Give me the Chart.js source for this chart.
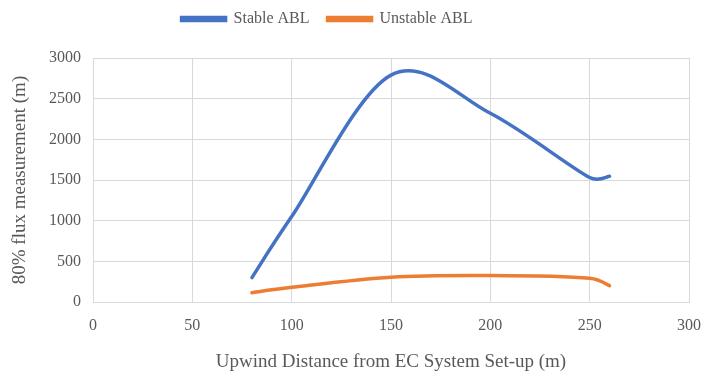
<!DOCTYPE html>
<html>
<head>
<meta charset="utf-8">
<script src="https://cdn.jsdelivr.net/npm/chart.js@4"></script>
<style>
html,body{margin:0;padding:0;background:#fff;}
#wrap{width:706px;height:376px;position:relative;}
</style>
</head>
<body>
<div id="wrap"><canvas id="c" width="706" height="376"></canvas></div>
<script>
const stableX = [80, 100, 150, 200, 250, 260];
const stableY = [300, 1050, 2790, 2320, 1530, 1545];
const unstableX = [80, 100, 150, 200, 250, 260];
const unstableY = [115, 180, 305, 325, 292, 200];
const xTicks = [0, 50, 100, 150, 200, 250, 300];
const yTicks = [0, 500, 1000, 1500, 2000, 2500, 3000];

const toPts = (xs, ys) => xs.map((x, i) => ({x: x, y: ys[i]}));
const FONT = "'Liberation Serif', 'DejaVu Serif', serif";
const GREY = '#595959';

// Excel-style smoothing: Catmull-Rom control points with length capping
const excelSpline = {
  id: 'excelSpline',
  beforeDatasetDraw(chart, args) {
    const meta = args.meta;
    const line = meta.dataset;
    if (!line) return;
    line.updateControlPoints(chart.chartArea, 'x');
    const pts = meta.data;
    const n = pts.length;
    const dist = (a, b) => Math.hypot(b.x - a.x, b.y - a.y);
    for (let i = 0; i < n - 1; i++) {
      const P0 = pts[Math.max(i - 1, 0)], P1 = pts[i], P2 = pts[i + 1], P3 = pts[Math.min(i + 2, n - 1)];
      const d02 = dist(P0, P2), d12 = dist(P1, P2), d13 = dist(P1, P3);
      let f0 = 1 / 6, f3 = 1 / 6;
      if (d02 / 6 >= d12 / 2) f0 = d12 / d02 / 2;
      if (d13 / 6 >= d12 / 2) f3 = d12 / d13 / 2;
      P1.cp2x = P1.x + (P2.x - P0.x) * f0;
      P1.cp2y = P1.y + (P2.y - P0.y) * f0;
      P2.cp1x = P2.x - (P3.x - P1.x) * f3;
      P2.cp1y = P2.y - (P3.y - P1.y) * f3;
    }
    delete line._path;
  }
};

// shift legend slightly and fix its height
const legendTweak = {
  id: 'legendTweak',
  beforeUpdate(chart) {
    const lg = chart.legend;
    if (lg && !lg._patched) {
      const f = lg.fit.bind(lg);
      lg.fit = function () { f(); this.height = 56; };
      lg._patched = true;
    }
  },
  afterLayout(chart) {
    const lg = chart.legend;
    if (lg) { lg.left -= 26; lg.right -= 26; lg.top -= 9; lg.bottom -= 9; }
  }
};

new Chart(document.getElementById('c'), {
  type: 'scatter',
  data: {
    datasets: [
      {label: 'Stable ABL', data: toPts(stableX, stableY), showLine: true, borderColor: '#4472c4', backgroundColor: '#4472c4', borderWidth: 3.5, pointRadius: 0, tension: 0.4, borderCapStyle: 'round'},
      {label: 'Unstable ABL', data: toPts(unstableX, unstableY), showLine: true, borderColor: '#ed7d31', backgroundColor: '#ed7d31', borderWidth: 3.5, pointRadius: 0, tension: 0.4, borderCapStyle: 'round'}
    ]
  },
  plugins: [excelSpline, legendTweak],
  options: {
    responsive: false,
    animation: false,
    layout: {padding: {left: 0, right: 0, top: 2, bottom: 0}},
    plugins: {
      legend: {
        position: 'top',
        labels: {font: {family: FONT, size: 16}, color: GREY, boxWidth: 44, boxHeight: 3, padding: 18},
      },
      tooltip: {enabled: false}
    },
    scales: {
      x: {
        type: 'linear', min: 0, max: 300,
        afterBuildTicks: (s) => { s.ticks = xTicks.map(v => ({value: v})); },
        afterFit: (s) => { s.height = 74; s.paddingRight = 17; s.paddingLeft = 0; },
        ticks: {font: {family: FONT, size: 16}, color: GREY, padding: 14, callback: v => String(v)},
        grid: {color: '#d9d9d9', drawTicks: false},
        border: {color: '#d9d9d9'},
        title: {display: true, text: 'Upwind Distance from EC System Set-up (m)', font: {family: FONT, size: 19}, color: GREY, padding: {top: 15, bottom: 3}}
      },
      y: {
        type: 'linear', min: 0, max: 3000,
        afterBuildTicks: (s) => { s.ticks = yTicks.map(v => ({value: v})); },
        afterFit: (s) => { s.width = 93; },
        ticks: {font: {family: FONT, size: 16}, color: GREY, padding: 12, callback: v => String(v)},
        grid: {color: '#d9d9d9', drawTicks: false},
        border: {color: '#d9d9d9'},
        title: {display: true, text: '80% flux measurement (m)', font: {family: FONT, size: 19}, color: GREY, padding: {top: 9, bottom: 6}}
      }
    }
  }
});
</script>
</body>
</html>
